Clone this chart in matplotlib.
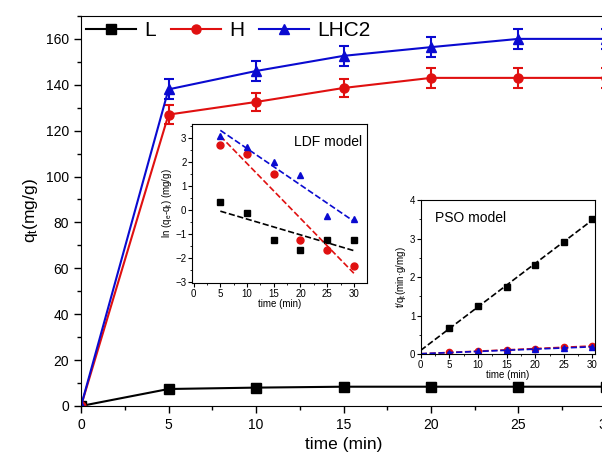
import numpy as np
import matplotlib
matplotlib.use('Agg')
import matplotlib.pyplot as plt

plt.rcParams['font.family'] = ['Liberation Sans', 'DejaVu Sans']
plt.rcParams['mathtext.fontset'] = 'custom'
plt.rcParams['mathtext.rm'] = 'Liberation Sans'
plt.rcParams['mathtext.it'] = 'Liberation Sans'

# datos cinetica
t = [0, 5, 10, 15, 20, 25, 30]
qL = [0, 7.4, 8.0, 8.4, 8.4, 8.4, 8.4]
qH = [0, 127, 132.5, 138.6, 143, 143, 143]
qLHC2 = [0, 138, 146, 152.6, 156.4, 160, 160]
errL = [0, 1.5, 1.5, 1.5, 1.5, 1.5, 1.5]
errH = [0, 4, 4, 4, 4.5, 4.5, 4.5]
errLHC2 = [0, 4.4, 4.5, 4.5, 4.5, 4.5, 4.5]

# modelo LDF
tm = [5, 10, 15, 20, 25, 30]
ldfL = [0.32, -0.14, -1.24, -1.67, -1.25, -1.24]
ldfH = [2.74, 2.36, 1.51, -1.24, -1.67, -2.33]
ldfLHC2 = [3.1, 2.64, 2.03, 1.47, -0.24, -0.39]

# modelo PSO
psoL = [0.67, 1.26, 1.75, 2.32, 2.92, 3.51]
psoH = [0.04, 0.076, 0.108, 0.14, 0.175, 0.21]
psoLHC2 = [0.036, 0.068, 0.098, 0.128, 0.156, 0.188]

fig = plt.figure(figsize=(6.02, 4.66), dpi=100)
ax = fig.add_axes([0.1346, 0.1288, 0.872, 0.837])

series = [(qL, errL, 'k', 's', 'L'), (qH, errH, '#e01010', 'o', 'H'),
          (qLHC2, errLHC2, '#0a0ad0', '^', 'LHC2')]
for q, e, c, m, lab in series:
    ax.errorbar(t, q, yerr=e, color=c, marker=m, ms=6.5, lw=1.5, capsize=3.5,
                elinewidth=1.5, capthick=1.5)
    ax.plot([], [], color=c, marker=m, ms=6.5, lw=1.5, label=lab)

ax.set_xlim(0, 30)
ax.set_ylim(0, 170)
ax.set_xticks(range(0, 31, 5))
ax.set_xticks(np.arange(0, 31, 2.5), minor=True)
ax.set_yticks(range(0, 161, 20))
ax.set_yticks(range(0, 171, 10), minor=True)
ax.tick_params(direction='out', labelsize=10, length=5, width=1)
ax.tick_params(which='minor', direction='out', length=3, width=1)
ax.set_xlabel('time (min)', fontsize=12.5)
ax.set_ylabel('q$_\\mathrm{t}$(mg/g)', fontsize=12.5, labelpad=4)
ax.legend(loc='upper left', ncol=3, frameon=False, fontsize=15,
          handlelength=2.4, handletextpad=0.4, columnspacing=0.7,
          borderaxespad=0.05, borderpad=0.2)

# inset LDF
ax1 = fig.add_axes([0.319, 0.3927, 0.291, 0.341])
cols = ['k', '#e01010', '#0a0ad0']
marks = ['s', 'o', '^']
for y, c, m in zip([ldfL, ldfH, ldfLHC2], cols, marks):
    ax1.plot(tm, y, ls='none', marker=m, color=c, ms=5)
    p = np.polyfit(tm, y, 1)
    xx = np.array([5, 30])
    ax1.plot(xx, np.polyval(p, xx), '--', color=c, lw=1.2)
ax1.set_xlim(-0.3, 32.5)
ax1.set_ylim(-3.05, 3.6)
ax1.set_xticks(range(0, 31, 5))
ax1.set_xticks(np.arange(0, 31, 2.5), minor=True)
ax1.set_yticks(range(-3, 4, 1))
ax1.set_yticks(np.arange(-3, 3.6, 0.5), minor=True)
ax1.tick_params(direction='out', labelsize=7, length=3, pad=1)
ax1.tick_params(which='minor', direction='out', length=1.5)
ax1.set_xlabel('time (min)', fontsize=7, labelpad=0)
ax1.set_ylabel('ln (q$_\\mathrm{e}$-q$_\\mathrm{t}$) (mg/g)', fontsize=7, labelpad=1)
ax1.text(0.97, 0.93, 'LDF model', transform=ax1.transAxes, ha='right', va='top', fontsize=10)

# inset PSO
ax2 = fig.add_axes([0.699, 0.2403, 0.289, 0.3305])
for y, c, m in zip([psoL, psoH, psoLHC2], cols, marks):
    ax2.plot(tm, y, ls='none', marker=m, color=c, ms=4.5)
    p = np.polyfit(tm, y, 1)
    xx = np.array([0, 30])
    ax2.plot(xx, np.polyval(p, xx), '--', color=c, lw=1.2)
ax2.set_xlim(0, 30.4)
ax2.set_ylim(0, 4)
ax2.set_xticks(range(0, 31, 5))
ax2.set_xticks(np.arange(0, 31, 2.5), minor=True)
ax2.set_yticks(range(0, 5, 1))
ax2.set_yticks(np.arange(0, 4.1, 0.5), minor=True)
ax2.tick_params(direction='out', labelsize=7, length=3, pad=1)
ax2.tick_params(which='minor', direction='out', length=1.5)
ax2.set_xlabel('time (min)', fontsize=7, labelpad=0)
ax2.set_ylabel('t/q$_\\mathrm{t}$(min·g/mg)', fontsize=7, labelpad=1)
ax2.text(0.08, 0.93, 'PSO model', transform=ax2.transAxes, ha='left', va='top', fontsize=10)

fig.savefig('out.png', dpi=100)
